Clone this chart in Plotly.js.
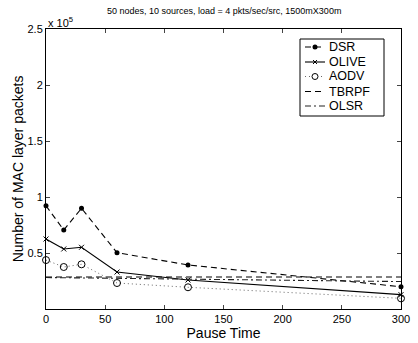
<!DOCTYPE html>
<html>
<head>
<meta charset="utf-8">
<script src="https://cdn.plot.ly/plotly-3.0.1.min.js"></script>
<style>html,body{margin:0;padding:0;background:#fff;}#plot{width:418px;height:343px;}</style>
</head>
<body>
<div id="plot"></div>
<script>
// Pause time (s) and packet counts in units of 1e5
const pauseTime = [0, 15, 30, 60, 120, 300];
const dsr   = [0.922, 0.705, 0.899, 0.503, 0.393, 0.199];
const olive = [0.625, 0.536, 0.551, 0.330, 0.259, 0.128];
const aodv  = [0.437, 0.375, 0.399, 0.232, 0.194, 0.095];
const tbrpf = [0.286, 0.286, 0.286, 0.286, 0.286, 0.286];
const olsr  = [0.281, 0.279, 0.280, 0.275, 0.266, 0.245];
const seriesNames = ['DSR', 'OLIVE', 'AODV', 'TBRPF', 'OLSR'];
const yTicks = [0.5, 1, 1.5, 2, 2.5];
const yTickText = ['0.5', '1', '1.5', '2', '2.5'];
const xTicks = [0, 50, 100, 150, 200, 250, 300];

const font = 'Liberation Sans, Arial, Helvetica, sans-serif';
const M = {l: 46, r: 17, t: 29, b: 34};
const W = 418, H = 343;
const pw = W - M.l - M.r, ph = H - M.t - M.b;
const px = x => (x - M.l) / pw;
const py = y => (H - M.b - y) / ph;

const styles = [
  {line: {color: '#000', width: 1.1, dash: '6px,4px'}, marker: 'dot'},
  {line: {color: '#000', width: 1.1, dash: 'solid'}, marker: 'x'},
  {line: {color: '#666', width: 1, dash: '1px,3px'}, marker: 'ring'},
  {line: {color: '#000', width: 1.1, dash: '6px,4px'}, marker: null},
  {line: {color: '#222', width: 1.1, dash: '6px,3px,2px,3px'}, marker: null}
];
const series = [dsr, olive, aodv, tbrpf, olsr];

const traces = series.map((ys, i) => {
  const s = styles[i];
  const t = {x: pauseTime, y: ys, name: seriesNames[i], mode: s.marker ? 'lines+markers' : 'lines',
             line: s.line, showlegend: false, cliponaxis: false};
  if (s.marker === 'dot') t.marker = {symbol: 'circle', size: 5, color: '#000'};
  if (s.marker === 'x') t.marker = {symbol: 'x-thin', size: 5, line: {color: '#000', width: 1}};
  if (s.marker === 'ring') t.marker = {symbol: 'circle-open', size: 7, color: '#000', line: {width: 1, color: '#000'}};
  return t;
});

// Legend drawn as shapes + annotations (paper coordinates)
const shapes = [{type: 'rect', xref: 'paper', yref: 'paper', x0: px(300), x1: px(384), y0: py(39), y1: py(116),
                 line: {color: '#000', width: 1}, fillcolor: '#fff', layer: 'above'}];
const annotations = [
  {text: '50 nodes, 10 sources, load = 4 pkts/sec/src, 1500mX300m', xref: 'paper', yref: 'paper',
   x: 0.5, y: 1, yshift: 11, xanchor: 'center', yanchor: 'bottom', showarrow: false, font: {size: 9}},
  {text: 'x 10<sup>5</sup>', xref: 'paper', yref: 'paper', x: 0, y: 1, xanchor: 'left', yanchor: 'bottom',
   showarrow: false, font: {size: 11}, yshift: -2}
];
const legY = [47, 62, 76.5, 91.5, 106];
seriesNames.forEach((nm, i) => {
  const y = py(legY[i]);
  const s = styles[i];
  shapes.push({type: 'line', xref: 'paper', yref: 'paper', x0: px(305), x1: px(325), y0: y, y1: y,
               line: s.line, layer: 'above'});
  const cx = px(315);
  if (s.marker === 'dot') shapes.push({type: 'circle', xref: 'paper', yref: 'paper', xsizemode: 'pixel', ysizemode: 'pixel',
    xanchor: cx, yanchor: y, x0: -2.5, x1: 2.5, y0: -2.5, y1: 2.5, fillcolor: '#000', line: {color: '#000', width: 0}, layer: 'above'});
  if (s.marker === 'x') {
    shapes.push({type: 'line', xref: 'paper', yref: 'paper', xsizemode: 'pixel', ysizemode: 'pixel',
      xanchor: cx, yanchor: y, x0: -2, x1: 2, y0: -2, y1: 2, line: {color: '#000', width: 1}, layer: 'above'});
    shapes.push({type: 'line', xref: 'paper', yref: 'paper', xsizemode: 'pixel', ysizemode: 'pixel',
      xanchor: cx, yanchor: y, x0: -2, x1: 2, y0: 2, y1: -2, line: {color: '#000', width: 1}, layer: 'above'});
  }
  if (s.marker === 'ring') shapes.push({type: 'circle', xref: 'paper', yref: 'paper', xsizemode: 'pixel', ysizemode: 'pixel',
    xanchor: cx, yanchor: y, x0: -3, x1: 3, y0: -3, y1: 3, fillcolor: '#fff', line: {color: '#000', width: 1}, layer: 'above'});
  annotations.push({text: nm, xref: 'paper', yref: 'paper', x: px(328), y: y, xanchor: 'left', yanchor: 'middle',
    showarrow: false, font: {size: 12.5}, borderpad: 0});
});

const layout = {
  width: W, height: H,
  margin: M,
  paper_bgcolor: '#fff', plot_bgcolor: '#fff',
  font: {family: font, color: '#000', size: 11},
  showlegend: false,
  shapes: shapes,
  annotations: annotations,
  xaxis: {range: [0, 300], tickvals: xTicks, ticks: 'inside', ticklen: 4,
          showline: true, linecolor: '#000', linewidth: 1, mirror: 'ticks',
          showgrid: false, zeroline: false, tickfont: {size: 11},
          title: {text: 'Pause Time', font: {size: 14}, standoff: 3}},
  yaxis: {range: [0, 2.5], tickvals: yTicks, ticktext: yTickText, ticks: 'inside', ticklen: 4,
          showline: true, linecolor: '#000', linewidth: 1, mirror: 'ticks',
          showgrid: false, zeroline: false, tickfont: {size: 11},
          title: {text: 'Number of MAC layer packets', font: {size: 14}, standoff: 0}}
};

Plotly.newPlot('plot', traces, layout, {displayModeBar: false, staticPlot: true});
</script>
</body>
</html>
